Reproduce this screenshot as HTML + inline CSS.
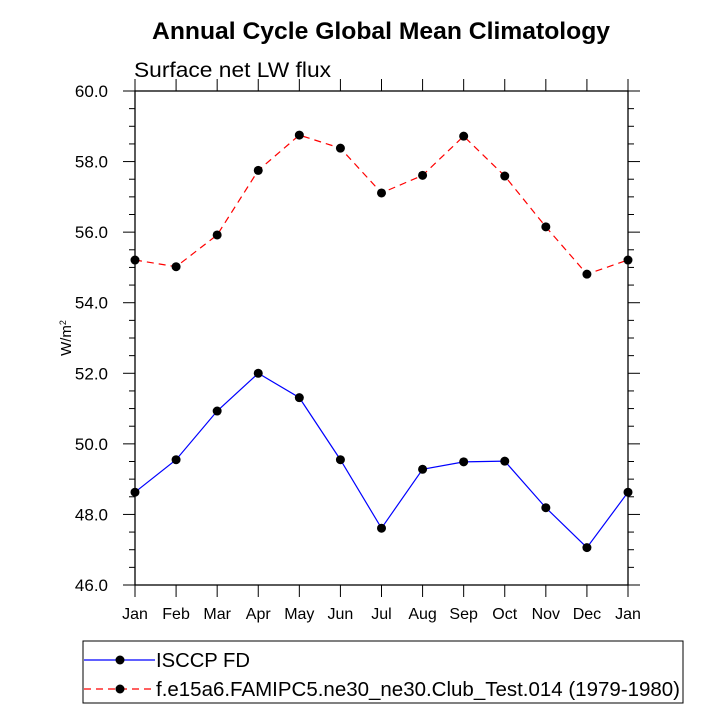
<!DOCTYPE html>
<html><head><meta charset="utf-8"><style>body{margin:0;background:#fff}svg{display:block;font-family:"Liberation Sans",sans-serif}</style></head>
<body>
<svg id="c" width="727" height="727"></svg>
<script>
const months=["Jan","Feb","Mar","Apr","May","Jun","Jul","Aug","Sep","Oct","Nov","Dec","Jan"];
const isccp=[48.63,49.55,50.93,52.0,51.31,49.55,47.61,49.28,49.49,49.51,48.19,47.06,48.63];
const model=[55.21,55.02,55.92,57.75,58.75,58.38,57.11,57.61,58.72,57.59,56.15,54.81,55.21];
const yTicks=[46,48,50,52,54,56,58,60];
const NS="http://www.w3.org/2000/svg",svg=document.getElementById("c");
const L=135,R=628,T=91,B=585,ymin=46,ymax=60;
const xs=i=>L+(R-L)*i/(months.length-1);
const ys=v=>B-(v-ymin)/(ymax-ymin)*(B-T);
function el(t,a,txt){const e=document.createElementNS(NS,t);for(const k in a)e.setAttribute(k,a[k]);if(txt!=null)e.textContent=txt;svg.appendChild(e);return e;}
let e;
e=el("text",{x:152,y:39,"font-size":24,"font-weight":"bold",textLength:458,lengthAdjust:"spacingAndGlyphs"},"Annual Cycle Global Mean Climatology");

e=el("text",{x:134,y:77,"font-size":21,textLength:197,lengthAdjust:"spacingAndGlyphs"},"Surface net LW flux");

e=el("text",{x:0,y:0,"font-size":15,transform:"translate(71,338) rotate(-90)","text-anchor":"middle"});
e.innerHTML='W/m<tspan dy="-5" font-size="9">2</tspan>';

e=el("rect",{x:L,y:T,width:R-L,height:B-T,fill:"none",stroke:"#000","stroke-width":1.3});

for(let v=ymin;v<=ymax+0.001;v+=0.5){const y=ys(v),maj=Math.abs(v-Math.round(v/2)*2)<0.01;const len=maj?12:6;
 el("line",{x1:L-len,x2:L,y1:y,y2:y,stroke:"#000","stroke-width":1});
 el("line",{x1:R,x2:R+len,y1:y,y2:y,stroke:"#000","stroke-width":1});}
yTicks.forEach(v=>{e=el("text",{x:L-27,y:ys(v)+6,"text-anchor":"end","font-size":17},v.toFixed(1));
 });
months.forEach((m,i)=>{const x=xs(i);
 el("line",{x1:x,x2:x,y1:B,y2:B+12,stroke:"#000","stroke-width":1});
 el("line",{x1:x,x2:x,y1:T-12,y2:T,stroke:"#000","stroke-width":1});
 e=el("text",{x:x,y:B+34,"text-anchor":"middle","font-size":16},m);
 });
function series(vals,col,dash,name){
 e=el("polyline",{points:vals.map((v,i)=>xs(i)+","+ys(v)).join(" "),fill:"none",stroke:col,"stroke-width":1.2,"stroke-dasharray":dash});
 
 vals.forEach((v,i)=>{e=el("circle",{cx:xs(i),cy:ys(v),r:4.5,fill:"#000"});
  });}
series(isccp,"#0000ff","","isccp");
series(model,"#ff0000","7,5","model");
e=el("rect",{x:83,y:641,width:600,height:62,fill:"none",stroke:"#000","stroke-width":1});

e=el("line",{x1:84,x2:155,y1:660,y2:660,stroke:"#0000ff","stroke-width":1.2});

el("circle",{cx:120,cy:660,r:4.5,fill:"#000"});
e=el("text",{x:156,y:667,"font-size":20,textLength:94,lengthAdjust:"spacingAndGlyphs"},"ISCCP FD");

e=el("line",{x1:84,x2:155,y1:689,y2:689,stroke:"#ff0000","stroke-width":1.2,"stroke-dasharray":"7,5"});

el("circle",{cx:120,cy:689,r:4.5,fill:"#000"});
e=el("text",{x:156,y:696,"font-size":20,textLength:524,lengthAdjust:"spacingAndGlyphs"},"f.e15a6.FAMIPC5.ne30_ne30.Club_Test.014 (1979-1980)");

</script>
</body></html>
